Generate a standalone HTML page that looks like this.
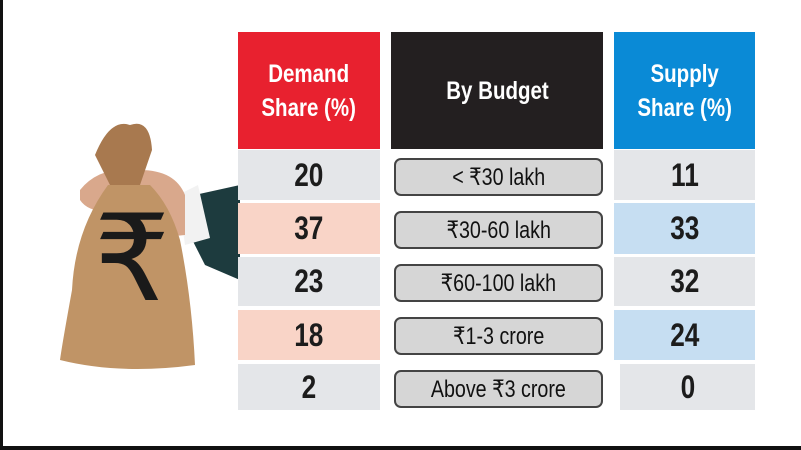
<!DOCTYPE html>
<html><head><meta charset="utf-8"><style>
body{margin:0;width:801px;height:450px;background:#fff;position:relative;overflow:hidden;font-family:"Liberation Sans","DejaVu Sans",sans-serif;font-weight:bold}
.a{position:absolute}
span{display:inline-block;transform:scaleX(0.82)}
.h{color:#fff;display:flex;align-items:center;justify-content:center;text-align:center;font-size:25px;line-height:34px}
.c{display:flex;align-items:center;justify-content:center;font-size:32px;color:#1c1c1c}
.p{position:absolute;left:394px;width:209px;height:38px;border:2px solid #444;border-radius:7px;background:#d6d6d6;box-sizing:border-box;display:flex;align-items:center;justify-content:center;font-size:24px;font-weight:normal;color:#111;white-space:nowrap}
</style></head><body>
<div class="a" style="left:0;top:0;width:3px;height:450px;background:#111"></div>
<div class="a" style="left:0;top:446px;width:801px;height:4px;background:#111"></div>

<svg class="a" style="left:0;top:100px" width="240" height="280" viewBox="0 100 240 280">
<path d="M172 200 L240 185 L240 280 L205 265 Z" fill="#1d3b3e"/>
<path d="M178 195 L198 185 L210 238 L185 245 Z" fill="#f2f2f2"/>
<path d="M80 190 Q100 165 140 170 Q175 170 185 195 L185 235 Q150 240 120 210 Q90 215 80 200Z" fill="#d9a88c"/>
<path d="M95 155 Q110 118 130 125 Q150 118 152 150 L140 185 L110 185 Z" fill="#a8794f"/>
<path d="M108 185 Q75 230 72 290 Q62 345 60 360 Q120 375 195 365 Q192 300 180 240 Q170 205 150 185 Z" fill="#c09466"/>
<text x="132" y="300" font-size="120" text-anchor="middle" fill="#1a1a1a" font-family="DejaVu Sans" font-weight="normal">₹</text>
</svg>

<div class="a h" style="left:238px;top:32px;width:142px;height:117px;background:#e8212f"><span>Demand<br>Share (%)</span></div>
<div class="a h" style="left:391px;top:32px;width:212px;height:117px;background:#231f20"><span>By Budget</span></div>
<div class="a h" style="left:614px;top:32px;width:141px;height:117px;background:#0a8ad6"><span>Supply<br>Share (%)</span></div>

<div class="a c" style="left:238px;top:150px;width:142px;height:50px;background:#e4e6e9"><span>20</span></div>
<div class="a c" style="left:238px;top:203px;width:142px;height:51px;background:#f9d4c7"><span>37</span></div>
<div class="a c" style="left:238px;top:257px;width:142px;height:49px;background:#e4e6e9"><span>23</span></div>
<div class="a c" style="left:238px;top:310px;width:142px;height:50px;background:#f9d4c7"><span>18</span></div>
<div class="a c" style="left:238px;top:364px;width:142px;height:46px;background:#e4e6e9"><span>2</span></div>

<div class="p" style="top:158px"><span>&lt; ₹30 lakh</span></div>
<div class="p" style="top:211px"><span>₹30-60 lakh</span></div>
<div class="p" style="top:264px"><span>₹60-100 lakh</span></div>
<div class="p" style="top:317px"><span>₹1-3 crore</span></div>
<div class="p" style="top:370px"><span>Above ₹3 crore</span></div>

<div class="a c" style="left:614px;top:150px;width:141px;height:50px;background:#e4e6e9"><span>11</span></div>
<div class="a c" style="left:614px;top:203px;width:141px;height:51px;background:#c6def2"><span>33</span></div>
<div class="a c" style="left:614px;top:257px;width:141px;height:49px;background:#e4e6e9"><span>32</span></div>
<div class="a c" style="left:614px;top:310px;width:141px;height:50px;background:#c6def2"><span>24</span></div>
<div class="a c" style="left:620px;top:364px;width:135px;height:46px;background:#e4e6e9"><span>0</span></div>
</body></html>
